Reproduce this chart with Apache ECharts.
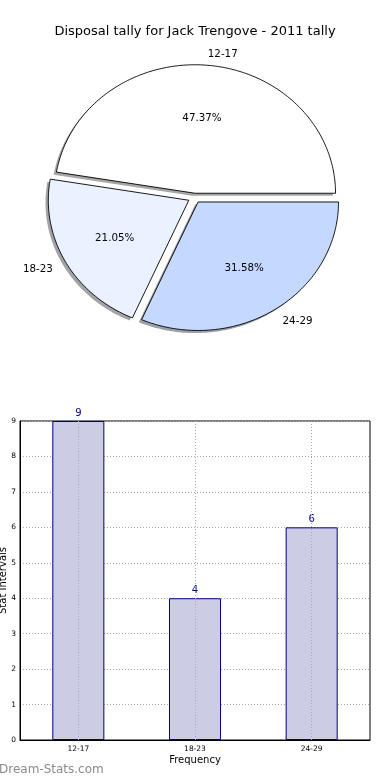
<!DOCTYPE html>
<html>
<head>
<meta charset="utf-8">
<script src="https://cdn.jsdelivr.net/npm/echarts@6/dist/echarts.min.js"></script>
<style>
html,body{margin:0;padding:0;background:#fff;}
#chart{width:390px;height:780px;}
</style>
</head>
<body>
<div id="chart"></div>
<script>
// ---- data ----
var titleText = 'Disposal tally for Jack Trengove - 2011 tally';
var categories = ['12-17', '18-23', '24-29'];
var pieValues = [9, 4, 6];
var barValues = [9, 4, 6];
var yTicks = [0, 1, 2, 3, 4, 5, 6, 7, 8, 9];
var xAxisName = 'Frequency';
var yAxisName = 'Stat Intervals';
var watermark = 'Dream-Stats.com';

// ---- styling / layout ----
var FONT = 'DejaVu Sans';
var pieColors = ['#ffffff', '#eaf1ff', '#c5d9ff'];
var PIE = {cx: 194.5, cy: 198, rx: 140.5, ry: 128.5, explodeX: 0.046, explodeY: 0.037, shadowDx: -2.8, shadowDy: 2.6, textDy: 1.5};

var total = pieValues.reduce(function (a, b) { return a + b; }, 0);

function wedgeGeom(idx) {
  var cum = 0;
  for (var i = 0; i < idx; i++) cum += pieValues[i];
  var t1 = cum / total * 360;
  var t2 = (cum + pieValues[idx]) / total * 360;
  var mid = (t1 + t2) / 2 * Math.PI / 180;
  var cx = PIE.cx + PIE.explodeX * PIE.rx * Math.cos(mid);
  var cy = PIE.cy - PIE.explodeY * PIE.ry * Math.sin(mid);
  return {t1: t1, t2: t2, mid: mid, cx: cx, cy: cy};
}
function wedgePoints(g, ox, oy) {
  var pts = [[g.cx + ox, g.cy + oy]];
  var n = Math.max(2, Math.ceil((g.t2 - g.t1) / 1));
  for (var k = 0; k <= n; k++) {
    var a = (g.t1 + (g.t2 - g.t1) * k / n) * Math.PI / 180;
    pts.push([g.cx + ox + PIE.rx * Math.cos(a), g.cy + oy - PIE.ry * Math.sin(a)]);
  }
  return pts;
}
function shadowColor(hex) {
  var r = parseInt(hex.substr(1, 2), 16), gg = parseInt(hex.substr(3, 2), 16), b = parseInt(hex.substr(5, 2), 16);
  return 'rgba(' + Math.round(r * 0.3) + ',' + Math.round(gg * 0.3) + ',' + Math.round(b * 0.3) + ',0.5)';
}

var chart = echarts.init(document.getElementById('chart'), null, {renderer: 'canvas'});

var option = {
  animation: false,
  backgroundColor: '#ffffff',
  title: {
    text: titleText,
    left: 'center',
    top: 20,
    textStyle: {fontFamily: FONT, fontSize: 13, fontWeight: 'normal', color: '#000'}
  },
  graphic: [{
    type: 'text',
    left: -1,
    top: 764,
    style: {text: watermark, fontFamily: FONT, fontSize: 12, fill: '#8a8a8a', fontWeight: 'normal'}
  }],
  grid: {
    left: 20, top: 421, width: 350, height: 319,
    show: true, borderColor: '#000', borderWidth: 1,
    containLabel: false, outerBoundsMode: 'none'
  },
  xAxis: {
    type: 'category',
    data: categories,
    name: xAxisName,
    nameLocation: 'middle',
    nameGap: 15.5,
    nameMoveOverlap: false,
    nameTextStyle: {fontFamily: FONT, fontSize: 10, color: '#000', verticalAlign: 'top'},
    axisLine: {lineStyle: {color: '#000', width: 1}},
    axisTick: {show: false},
    axisLabel: {fontFamily: FONT, fontSize: 7.5, color: '#000', margin: 5},
    splitLine: {show: false}
  },
  yAxis: {
    type: 'value',
    min: yTicks[0],
    max: yTicks[yTicks.length - 1],
    interval: 1,
    name: yAxisName,
    nameLocation: 'middle',
    nameGap: 11.5,
    nameMoveOverlap: false,
    nameTextStyle: {fontFamily: FONT, fontSize: 10, color: '#000'},
    axisLine: {show: true, lineStyle: {color: '#000', width: 1}},
    axisTick: {show: false},
    axisLabel: {fontFamily: FONT, fontSize: 7.5, color: '#000', margin: 4},
    splitLine: {show: true, lineStyle: {color: '#aaaaaa', width: 1, type: [1, 2]}}
  },
  series: [
    {
      type: 'custom',
      coordinateSystem: 'none',
      z: 1,
      silent: true,
      data: pieValues,
      renderItem: function (params, api) {
        var g = wedgeGeom(params.dataIndex);
        return {
          type: 'polygon',
          shape: {points: wedgePoints(g, PIE.shadowDx, PIE.shadowDy)},
          style: {fill: shadowColor(pieColors[params.dataIndex]), stroke: null}
        };
      }
    },
    {
      type: 'custom',
      coordinateSystem: 'none',
      z: 2,
      silent: true,
      data: pieValues,
      renderItem: function (params, api) {
        var i = params.dataIndex;
        var g = wedgeGeom(i);
        var cm = Math.cos(g.mid), sm = Math.sin(g.mid);
        var pct = (pieValues[i] / total * 100).toFixed(2) + '%';
        var lx = g.cx + 1.1 * PIE.rx * cm;
        var ly = g.cy - 1.1 * PIE.ry * sm + PIE.textDy;
        return {
          type: 'group',
          children: [
            {
              type: 'polygon',
              shape: {points: wedgePoints(g, 0, 0)},
              style: {fill: pieColors[i], stroke: '#000', lineWidth: 0.9}
            },
            {
              type: 'text',
              x: g.cx + 0.6 * PIE.rx * cm,
              y: g.cy - 0.6 * PIE.ry * sm + PIE.textDy,
              style: {text: pct, fontFamily: FONT, fontSize: 10.3, fill: '#000', align: 'center', verticalAlign: 'middle'}
            },
            {
              type: 'text',
              x: lx,
              y: ly,
              style: {text: categories[i], fontFamily: FONT, fontSize: 10.3, fill: '#000', align: cm > 0 ? 'left' : 'right', verticalAlign: 'middle'}
            }
          ]
        };
      }
    },
    {
      type: 'bar',
      data: barValues,
      barWidth: '44.6%',
      itemStyle: {color: '#ccccE4', borderColor: '#000080', borderWidth: 1},
      label: {show: true, position: 'top', distance: 3, color: '#000080', fontFamily: FONT, fontSize: 10},
      markLine: {
        silent: true,
        symbol: ['none', 'none'],
        label: {show: false},
        lineStyle: {color: '#aaaaaa', width: 1, type: [1, 2]},
        data: categories.map(function (c) { return {xAxis: c}; })
      }
    }
  ]
};
chart.setOption(option);
</script>
</body>
</html>
